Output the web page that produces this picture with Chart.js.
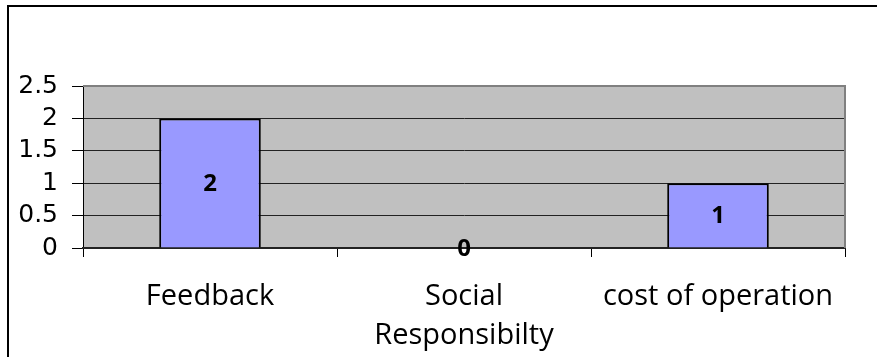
<!DOCTYPE html>
<html>
<head>
<meta charset="utf-8">
<script src="https://cdn.jsdelivr.net/npm/chart.js@4/dist/chart.umd.min.js"></script>
<style>
  body { margin: 0; background: #fff; }
  #wrap { position: relative; width: 877px; height: 357px; overflow: hidden; }
  #grafico { position: absolute; left: 0; top: 0; }
  #moldura { position: absolute; left: 7px; top: 5px; width: 900px; height: 400px;
             border: 2px solid #000; box-sizing: border-box; pointer-events: none; }
</style>
</head>
<body>
<div id="wrap">
  <canvas id="grafico" width="877" height="357"></canvas>
  <div id="moldura"></div>
</div>
<script>
var categorias = ['Feedback', ['Social', 'Responsibilty'], 'cost of operation'];
var valores = [2, 0, 1];
var marcasY = [0, 0.5, 1, 1.5, 2, 2.5];

// fundo cinza da area do grafico e borda direita
var fundoPlugin = {
    id: 'fundo',
    beforeDraw: function(chart) {
        var a = chart.chartArea, ctx = chart.ctx;
        ctx.save();
        ctx.fillStyle = '#c0c0c0';
        ctx.fillRect(a.left, a.top, a.right - a.left, a.bottom - a.top);
        ctx.restore();
    },
    beforeDatasetsDraw: function(chart) {
        var a = chart.chartArea, ctx = chart.ctx;
        ctx.save();
        ctx.strokeStyle = '#808080';
        ctx.lineWidth = 2;
        ctx.beginPath();
        ctx.moveTo(a.left, a.top);
        ctx.lineTo(a.right, a.top);
        ctx.lineTo(a.right, a.bottom);
        ctx.stroke();
        ctx.restore();
    }
};

// rotulos de valor no meio de cada barra
var rotulosPlugin = {
    id: 'rotulos',
    afterDatasetsDraw: function(chart) {
        var ctx = chart.ctx;
        var meta = chart.getDatasetMeta(0);
        ctx.save();
        ctx.font = 'bold 24px "Open Sans"';
        ctx.fillStyle = '#000';
        ctx.textAlign = 'center';
        ctx.textBaseline = 'middle';
        meta.data.forEach(function(bar, i) {
            ctx.fillText(String(valores[i]), bar.x, (bar.y + bar.base) / 2 + 1);
        });
        ctx.restore();
    }
};

var ctx = document.getElementById('grafico').getContext('2d');
var chart = new Chart(ctx, {
    type: 'bar',
    data: {
        labels: categorias,
        datasets: [{
            data: valores,
            backgroundColor: '#9999ff',
            borderColor: '#000',
            borderWidth: 2,
            categoryPercentage: 1,
            barPercentage: 0.4
        }]
    },
    options: {
        responsive: false,
        devicePixelRatio: 1,
        animation: false,
        layout: { padding: { top: 86, right: 32, left: 0, bottom: 0 } },
        plugins: { legend: { display: false }, tooltip: { enabled: false } },
        scales: {
            y: {
                min: 0,
                max: 2.5,
                afterFit: function(s) { s.width = 83; },
                afterBuildTicks: function(s) {
                    s.ticks = marcasY.map(function(v) { return { value: v }; });
                },
                ticks: {
                    color: '#000',
                    padding: 14,
                    autoSkip: false,
                    callback: function(v) { return String(v); },
                    font: { family: '"DejaVu Sans"', size: 25, lineHeight: 1 }
                },
                grid: {
                    color: function(c) { return c.tick && c.tick.value === 2.5 ? '#808080' : '#222'; },
                    tickColor: '#000',
                    tickLength: 11,
                    lineWidth: 1
                },
                border: { color: '#000', width: 1 }
            },
            x: {
                afterFit: function(s) { s.height = 109; },
                ticks: {
                    color: '#000',
                    padding: 20,
                    maxRotation: 0,
                    autoSkip: false,
                    font: { family: '"Open Sans"', size: 29, lineHeight: 1.35 }
                },
                grid: {
                    offset: true,
                    drawOnChartArea: false,
                    color: '#000',
                    tickLength: 9
                },
                border: { color: '#222', width: 2 }
            }
        }
    },
    plugins: [fundoPlugin, rotulosPlugin]
});
</script>
</body>
</html>
